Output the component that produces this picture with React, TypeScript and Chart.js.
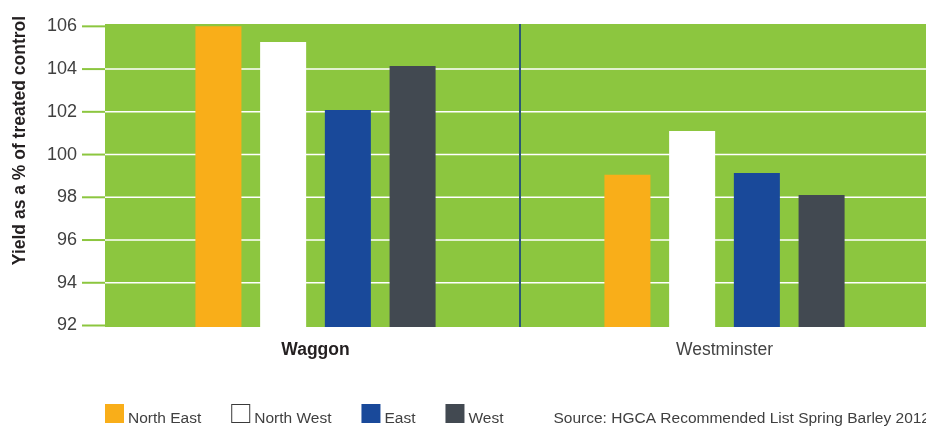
import React, { useEffect, useRef } from "react";
import { Chart, registerables } from "chart.js";

Chart.register(...registerables);

const categories = ["Waggon", "Westminster"];
const seriesNames = ["North East", "North West", "East", "West"];
const northEast = [106.0, 99.05];
const northWest = [105.27, 101.1];
const east = [102.08, 99.14];
const west = [104.14, 98.11];
const yTicks = [92, 94, 96, 98, 100, 102, 104, 106];
const yTitle = "Yield as a % of treated control";
const sourceNote = "Source: HGCA Recommended List Spring Barley 2012";

const seriesColors = ["#F9AE19", "#FFFFFF", "#19499A", "#424951"];
const FONT = "'Liberation Sans', Arial, Helvetica, sans-serif";
const GREEN = "#8CC63F";

const decorPlugin = {
  id: "decor",
  beforeDatasetsDraw(chart: any) {
    const { ctx, chartArea: a, scales } = chart;
    const y = scales.y;
    const x = scales.x;
    ctx.save();
    ctx.fillStyle = GREEN;
    ctx.fillRect(a.left - 6, a.top, a.right - a.left + 30, a.bottom - a.top);
    ctx.strokeStyle = "#FFFFFF";
    ctx.lineWidth = 1.5;
    yTicks.forEach((v, i) => {
      if (i === 0 || i === yTicks.length - 1) return;
      const py = y.getPixelForValue(v);
      ctx.beginPath();
      ctx.moveTo(a.left - 6, py);
      ctx.lineTo(a.right + 30, py);
      ctx.stroke();
    });
    ctx.strokeStyle = GREEN;
    ctx.lineWidth = 2;
    yTicks.forEach((v) => {
      const py = y.getPixelForValue(v);
      ctx.beginPath();
      ctx.moveTo(a.left - 29, py);
      ctx.lineTo(a.left - 6, py);
      ctx.stroke();
    });
    const mid = (x.getPixelForValue(0) + x.getPixelForValue(1)) / 2;
    ctx.strokeStyle = "#2B5877";
    ctx.lineWidth = 2;
    ctx.beginPath();
    ctx.moveTo(mid, a.top);
    ctx.lineTo(mid, a.bottom);
    ctx.stroke();
    ctx.restore();
  },
  afterDraw(chart: any) {
    const { ctx } = chart;
    ctx.save();
    ctx.translate(25, 140.5);
    ctx.rotate(-Math.PI / 2);
    ctx.font = `bold 17.5px ${FONT}`;
    ctx.fillStyle = "#231F20";
    ctx.textAlign = "center";
    ctx.textBaseline = "alphabetic";
    ctx.fillText(yTitle, 0, 0);
    ctx.restore();

    ctx.save();
    ctx.font = `15.5px ${FONT}`;
    ctx.textBaseline = "alphabetic";
    ctx.textAlign = "left";
    let lx = 105;
    const boxTop = 404;
    const box = 19;
    const baseline = 423;
    let lastEnd = lx;
    seriesNames.forEach((name, i) => {
      ctx.fillStyle = seriesColors[i];
      ctx.fillRect(lx, boxTop, box, box);
      if (seriesColors[i].toUpperCase() === "#FFFFFF") {
        ctx.strokeStyle = "#3A3A3A";
        ctx.lineWidth = 1;
        ctx.strokeRect(lx + 0.5, boxTop + 0.5, box - 1, box - 1);
      }
      ctx.fillStyle = "#3F3F3F";
      const tx = lx + box + 4;
      ctx.fillText(name, tx, baseline);
      lastEnd = tx + ctx.measureText(name).width;
      lx = lastEnd + 30;
    });
    ctx.fillStyle = "#3F3F3F";
    ctx.fillText(sourceNote, lastEnd + 50, baseline);
    ctx.restore();
  },
};

export default function App() {
  const canvasRef = useRef<HTMLCanvasElement | null>(null);

  useEffect(() => {
    const canvas = canvasRef.current;
    if (!canvas) return;
    const data = [northEast, northWest, east, west];
    const chart = new Chart(canvas, {
      type: "bar",
      data: {
        labels: categories,
        datasets: seriesNames.map((name, i) => ({
          label: name,
          data: data[i],
          backgroundColor: seriesColors[i],
          borderWidth: 0,
          barPercentage: 0.711,
          categoryPercentage: 0.633,
        })),
      },
      options: {
        responsive: false,
        animation: false,
        devicePixelRatio: 1,
        layout: { autoPadding: false, padding: { left: 0, right: 7, top: 24, bottom: 0 } },
        plugins: {
          legend: { display: false },
          tooltip: { enabled: false },
          title: { display: false },
        },
        scales: {
          x: {
            grid: { display: false, drawTicks: true, tickLength: 13 },
            border: { display: false },
            ticks: {
              padding: 0,
              font: (c: any) => ({
                family: FONT,
                size: 17.5,
                weight: c.index === 0 ? "bold" : "normal",
              }),
              color: (c: any) => (c.index === 0 ? "#231F20" : "#444444"),
            },
            afterFit: (scale: any) => {
              scale.height = 100;
            },
          },
          y: {
            min: 91.93,
            max: 106.11,
            grid: { display: false, drawTicks: true, tickLength: 34 },
            border: { display: false },
            afterBuildTicks: (scale: any) => {
              scale.ticks = yTicks.map((v) => ({ value: v }));
            },
            ticks: {
              padding: 0,
              font: { family: FONT, size: 18 },
              color: "#404040",
              callback: (v: any) => String(v),
            },
            afterFit: (scale: any) => {
              scale.width = 111;
            },
          },
        },
      },
      plugins: [decorPlugin],
    });
    return () => chart.destroy();
  }, []);

  return (
    <div
      style={{
        position: "fixed",
        left: 0,
        top: 0,
        width: 926,
        height: 427,
        overflow: "hidden",
        background: "#FFFFFF",
      }}
    >
      <canvas
        ref={canvasRef}
        width={936}
        height={427}
        style={{ display: "block", width: 936, height: 427 }}
      />
    </div>
  );
}
